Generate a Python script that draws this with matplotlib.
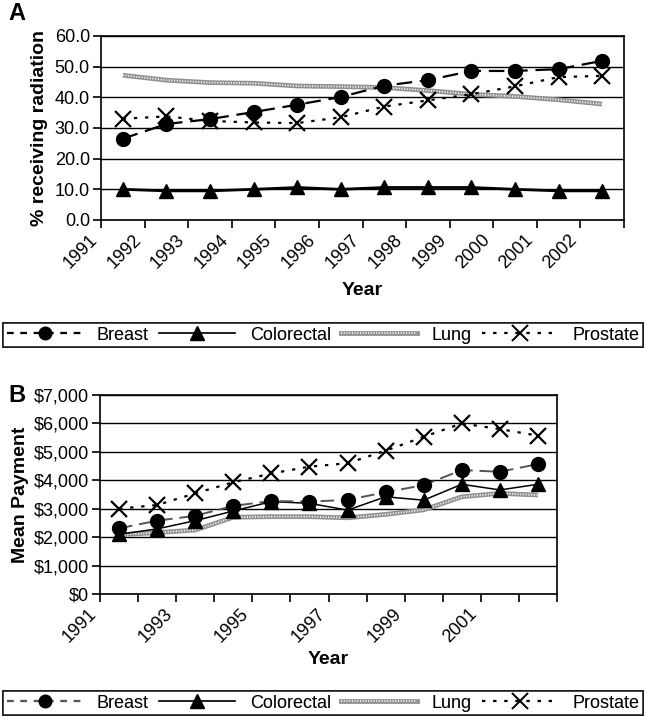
import matplotlib
matplotlib.use("Agg")
import matplotlib.pyplot as plt
from matplotlib.lines import Line2D
import numpy as np

plt.rcParams["font.family"] = ["Liberation Sans", "DejaVu Sans"]

years = [str(y) for y in range(1991, 2003)]

# Panel A: % receiving radiation
rad_breast = [26.5, 31.3, 32.9, 35.2, 37.6, 40.1, 43.8, 45.6, 48.6, 48.6, 49.2, 51.9]
rad_colorectal = [10.0, 9.5, 9.5, 10.0, 10.6, 10.0, 10.6, 10.6, 10.6, 10.0, 9.5, 9.5]
rad_lung = [47.2, 45.6, 44.8, 44.6, 43.7, 43.5, 43.2, 42.2, 41.0, 40.3, 39.2, 37.8]
rad_prostate = [33.0, 33.8, 32.3, 31.8, 31.6, 33.5, 37.0, 39.0, 41.0, 43.6, 46.6, 47.0]

# Panel B: mean payment ($)
pay_breast = [2310, 2580, 2750, 3100, 3270, 3250, 3310, 3580, 3830, 4360, 4300, 4570]
pay_colorectal = [2100, 2290, 2580, 2920, 3250, 3190, 2950, 3420, 3300, 3860, 3660, 3860]
pay_lung = [2080, 2160, 2250, 2700, 2720, 2720, 2680, 2800, 2960, 3420, 3540, 3480]
pay_prostate = [3000, 3130, 3540, 3930, 4240, 4480, 4600, 5040, 5530, 6000, 5800, 5570]

fig = plt.figure(figsize=(6.46, 7.19), dpi=100)
W, H = 646, 719
TICK_FS = 13
LABEL_FS = 14


def px_axes(x0, y0, x1, y1):
    return fig.add_axes([x0 / W, 1 - y1 / H, (x1 - x0) / W, (y1 - y0) / H])


def draw_lung(ax, x, y):
    ax.plot(x, y, color="#909090", lw=3.4, solid_capstyle="butt", zorder=2)
    ax.plot(x, y, color="white", lw=1.3, ls=(0, (0.6, 0.9)), zorder=2.1)


def style_axes(ax, n, ymax, ystep):
    ax.set_xlim(0, n)
    ax.set_ylim(0, ymax)
    ax.set_yticks(np.arange(0, ymax + ystep / 2, ystep))
    ax.yaxis.grid(True, color="black", lw=1.0)
    ax.set_axisbelow(True)
    for s in ax.spines.values():
        s.set_linewidth(1.2)
    ax.tick_params(axis="both", direction="out", length=6, width=1.2,
                   labelsize=TICK_FS, pad=2)


# ---------- Panel A ----------
axA = px_axes(101, 36, 624, 220)
x = np.arange(len(years)) + 0.5
draw_lung(axA, x, rad_lung)
axA.plot(x, rad_colorectal, color="black", lw=2.0, marker="^", ms=10, zorder=3)
axA.plot(x, rad_prostate, color="black", lw=1.6, ls=(0, (1.5, 3.5)),
         marker="x", ms=11, mew=1.6, zorder=3)
axA.plot(x, rad_breast, color="black", lw=1.6, ls=(0, (7, 3.5)),
         marker="o", ms=10, zorder=4)
style_axes(axA, len(years), 60, 10)
axA.yaxis.set_major_formatter(matplotlib.ticker.FormatStrFormatter("%.1f"))
axA.set_xticks(np.arange(len(years) + 1))
axA.set_xticklabels(years + [""], rotation=45, ha="right")
axA.set_ylabel("% receiving radiation", fontsize=LABEL_FS, fontweight="bold", labelpad=5)
fig.text(0.5 * (101 + 624) / W, 1 - 290 / H, "Year", fontsize=LABEL_FS,
         fontweight="bold", ha="center", va="center")
fig.text(8 / W, 1 - 14 / H, "A", fontsize=17, fontweight="bold", va="center", ha="left")

# ---------- Panel B ----------
axB = px_axes(100, 395, 557, 594)
draw_lung(axB, x, pay_lung)
axB.plot(x, pay_colorectal, color="black", lw=1.1, marker="^", ms=10, zorder=3)
axB.plot(x, pay_prostate, color="black", lw=1.6, ls=(0, (1.5, 3.5)),
         marker="x", ms=11, mew=1.6, zorder=3)
axB.plot(x, pay_breast, color="#555555", lw=1.4, ls=(0, (7, 3.5)),
         marker="o", ms=10, mfc="black", mec="black", zorder=4)
style_axes(axB, len(years), 7000, 1000)
axB.yaxis.set_major_formatter(matplotlib.ticker.StrMethodFormatter("${x:,.0f}"))
axB.set_xticks(np.arange(len(years) + 1))
axB.set_xticklabels([years[i] if i % 2 == 0 and i < len(years) else ""
                     for i in range(len(years) + 1)], rotation=45, ha="right")
axB.set_ylabel("Mean Payment", fontsize=LABEL_FS, fontweight="bold", labelpad=3)
fig.text(0.5 * (100 + 557) / W, 1 - 660 / H, "Year", fontsize=LABEL_FS,
         fontweight="bold", ha="center", va="center")
fig.text(8 / W, 1 - 396 / H, "B", fontsize=17, fontweight="bold", va="center", ha="left")


# ---------- Legends ----------
def make_handles(breast_color):
    lung = (Line2D([], [], color="#909090", lw=3.4),
            Line2D([], [], color="white", lw=1.3, ls=(0, (0.6, 0.9))))
    return [
        Line2D([], [], color=breast_color, lw=1.6, ls=(0, (3, 3)), marker="o",
               ms=9, mfc="black", mec="black"),
        Line2D([], [], color="black", lw=1.2, marker="^", ms=10),
        lung,
        Line2D([], [], color="black", lw=1.6, ls=(0, (1.5, 3.5)), marker="x",
               ms=11, mew=1.4),
    ]


labels = ["Breast", "Colorectal", "Lung", "Prostate"]
for top, bcol in [(323, "black"), (691, "#555555")]:
    leg = fig.legend(make_handles(bcol), labels, loc="upper left",
                     bbox_to_anchor=(3 / W, 1 - (top + 26) / H, 640 / W, 26 / H),
                     mode="expand", ncol=4, fontsize=TICK_FS, frameon=True,
                     fancybox=False, edgecolor="black", handlelength=4.2,
                     handletextpad=0.8, columnspacing=1.2, borderaxespad=0,
                     borderpad=0.2)
    leg.get_frame().set_linewidth(1.2)
    fig.add_artist(leg)

fig.savefig("out.png", dpi=100)
